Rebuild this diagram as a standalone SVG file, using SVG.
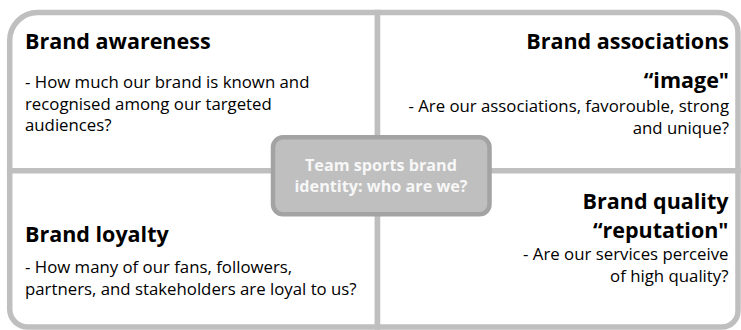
<svg xmlns="http://www.w3.org/2000/svg" width="741" height="330" viewBox="0 0 741 330">
  <style>
    .quad { fill: #ffffff; stroke: #bfbfbf; stroke-width: 5.5; stroke-linejoin: miter; }
    .title { font-family: "Open Sans", "Liberation Sans", sans-serif; font-weight: bold; font-size: 21.5px; fill: #000000; }
    .body { font-family: "Open Sans", "Liberation Sans", sans-serif; font-size: 16.8px; fill: #000000; }
    .end { text-anchor: end; }
    .hub { fill: #bfbfbf; stroke: #a3a3a3; stroke-width: 4.5; }
    .hubtext { font-family: "Open Sans", "Liberation Sans", sans-serif; font-weight: bold; font-size: 16.2px; fill: #f7f7f7; text-anchor: middle; }
  </style>

  <rect width="741" height="330" fill="#ffffff"/>

  <!-- top-left quadrant -->
  <g id="brand-awareness">
    <path class="quad" d="M 9.7,170.7 V 40.5 A 28 28 0 0 1 37.7,12.5 H 377.5 V 170.7 Z"/>
    <text class="title" x="25" y="49">Brand awareness</text>
    <text class="body" x="25" y="88">- How much our brand is known and</text>
    <text class="body" x="25" y="109.5">recognised among our targeted</text>
    <text class="body" x="25" y="131">audiences?</text>
  </g>

  <!-- top-right quadrant -->
  <g id="brand-associations">
    <path class="quad" d="M 377.5,12.5 H 718 A 20 20 0 0 1 738,32.5 V 170.7 H 377.5 Z"/>
    <text class="title end" x="729" y="49">Brand associations</text>
    <text class="title end" x="729" y="88">“image"</text>
    <text class="body end" x="729" y="112">- Are our associations, favorouble, strong</text>
    <text class="body end" x="729" y="133.5">and unique?</text>
  </g>

  <!-- bottom-left quadrant -->
  <g id="brand-loyalty">
    <path class="quad" d="M 9.7,170.7 H 377.5 V 327 H 27.7 A 18 18 0 0 1 9.7,309 Z"/>
    <text class="title" x="25" y="241.5">Brand loyalty</text>
    <text class="body" x="25" y="273">- How many of our fans, followers,</text>
    <text class="body" x="25" y="294.5">partners, and stakeholders are loyal to us?</text>
  </g>

  <!-- bottom-right quadrant -->
  <g id="brand-quality">
    <path class="quad" d="M 377.5,170.7 H 738 V 311 A 16 16 0 0 1 722,327 H 377.5 Z"/>
    <text class="title end" x="728.5" y="209">Brand quality</text>
    <text class="title end" x="728.5" y="237.5">“reputation"</text>
    <text class="body end" x="728.5" y="260">- Are our services perceive</text>
    <text class="body end" x="728.5" y="281.5">of high quality?</text>
  </g>

  <!-- central hub -->
  <g id="brand-identity">
    <rect class="hub" x="273" y="137.3" width="216.5" height="77" rx="10" ry="10"/>
    <text class="hubtext" x="381" y="171">Team sports brand</text>
    <text class="hubtext" x="381" y="192">identity: who are we?</text>
  </g>
</svg>
